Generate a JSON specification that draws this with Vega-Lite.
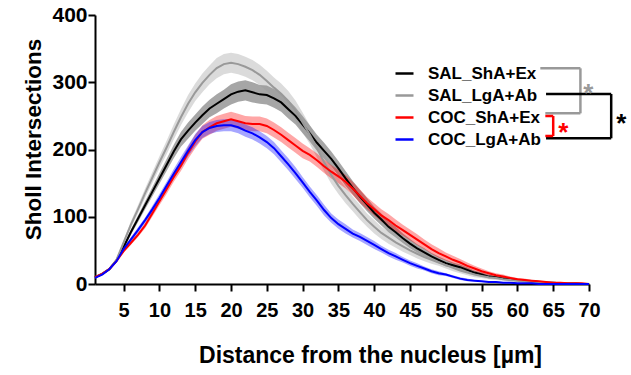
{
  "$schema": "https://vega.github.io/schema/vega-lite/v6.json",
  "width": 494,
  "height": 269,
  "autosize": {"type": "none"},
  "padding": {"left": 95, "top": 15, "right": 42, "bottom": 91},
  "background": "white",
  "config": {
    "view": {"stroke": null},
    "font": "Liberation Sans",
    "axis": {
      "grid": false,
      "domainColor": "#000000",
      "domainWidth": 2,
      "tickColor": "#000000",
      "tickWidth": 2,
      "tickSize": 7,
      "labelFont": "Liberation Sans",
      "labelFontWeight": "bold",
      "labelColor": "#000000",
      "labelFlush": false,
      "labelOverlap": false,
      "titleFont": "Liberation Sans",
      "titleFontWeight": "bold",
      "titleColor": "#000000"
    }
  },
  "datasets": {
    "curves": [
      {"g":"SAL_ShA+Ex","x":1,"y":10,"e":1},{"g":"SAL_ShA+Ex","x":2,"y":15,"e":1},{"g":"SAL_ShA+Ex","x":3,"y":22,"e":1},{"g":"SAL_ShA+Ex","x":4,"y":35,"e":2},{"g":"SAL_ShA+Ex","x":5,"y":55,"e":3},{"g":"SAL_ShA+Ex","x":6,"y":77,"e":4},{"g":"SAL_ShA+Ex","x":7,"y":97,"e":5},{"g":"SAL_ShA+Ex","x":8,"y":117,"e":6},{"g":"SAL_ShA+Ex","x":9,"y":137,"e":7},{"g":"SAL_ShA+Ex","x":10,"y":157,"e":8},
      {"g":"SAL_ShA+Ex","x":11,"y":177,"e":9},{"g":"SAL_ShA+Ex","x":12,"y":197,"e":10},{"g":"SAL_ShA+Ex","x":13,"y":215,"e":11},{"g":"SAL_ShA+Ex","x":14,"y":228,"e":12},{"g":"SAL_ShA+Ex","x":15,"y":240,"e":12},{"g":"SAL_ShA+Ex","x":16,"y":251,"e":13},{"g":"SAL_ShA+Ex","x":17,"y":261,"e":13},{"g":"SAL_ShA+Ex","x":18,"y":268,"e":14},{"g":"SAL_ShA+Ex","x":19,"y":275,"e":14},{"g":"SAL_ShA+Ex","x":20,"y":282,"e":15},
      {"g":"SAL_ShA+Ex","x":21,"y":286,"e":15},{"g":"SAL_ShA+Ex","x":22,"y":288,"e":15},{"g":"SAL_ShA+Ex","x":23,"y":285,"e":15},{"g":"SAL_ShA+Ex","x":24,"y":282,"e":14},{"g":"SAL_ShA+Ex","x":25,"y":281,"e":14},{"g":"SAL_ShA+Ex","x":26,"y":276,"e":14},{"g":"SAL_ShA+Ex","x":27,"y":270,"e":14},{"g":"SAL_ShA+Ex","x":28,"y":260,"e":14},{"g":"SAL_ShA+Ex","x":29,"y":250,"e":13},{"g":"SAL_ShA+Ex","x":30,"y":237,"e":13},
      {"g":"SAL_ShA+Ex","x":31,"y":224,"e":12},{"g":"SAL_ShA+Ex","x":32,"y":210,"e":12},{"g":"SAL_ShA+Ex","x":33,"y":198,"e":12},{"g":"SAL_ShA+Ex","x":34,"y":186,"e":11},{"g":"SAL_ShA+Ex","x":35,"y":172,"e":11},{"g":"SAL_ShA+Ex","x":36,"y":157,"e":11},{"g":"SAL_ShA+Ex","x":37,"y":143,"e":10},{"g":"SAL_ShA+Ex","x":38,"y":130,"e":10},{"g":"SAL_ShA+Ex","x":39,"y":118,"e":10},{"g":"SAL_ShA+Ex","x":40,"y":106,"e":9},
      {"g":"SAL_ShA+Ex","x":41,"y":96,"e":9},{"g":"SAL_ShA+Ex","x":42,"y":85,"e":8},{"g":"SAL_ShA+Ex","x":43,"y":77,"e":8},{"g":"SAL_ShA+Ex","x":44,"y":68,"e":7},{"g":"SAL_ShA+Ex","x":45,"y":60,"e":7},{"g":"SAL_ShA+Ex","x":46,"y":53,"e":6},{"g":"SAL_ShA+Ex","x":47,"y":47,"e":6},{"g":"SAL_ShA+Ex","x":48,"y":41,"e":5},{"g":"SAL_ShA+Ex","x":49,"y":36,"e":5},{"g":"SAL_ShA+Ex","x":50,"y":31,"e":5},
      {"g":"SAL_ShA+Ex","x":51,"y":28,"e":4},{"g":"SAL_ShA+Ex","x":52,"y":25,"e":4},{"g":"SAL_ShA+Ex","x":53,"y":21,"e":4},{"g":"SAL_ShA+Ex","x":54,"y":17,"e":3},{"g":"SAL_ShA+Ex","x":55,"y":14,"e":3},{"g":"SAL_ShA+Ex","x":56,"y":11,"e":3},{"g":"SAL_ShA+Ex","x":57,"y":10,"e":2},{"g":"SAL_ShA+Ex","x":58,"y":8,"e":2},{"g":"SAL_ShA+Ex","x":59,"y":7,"e":2},{"g":"SAL_ShA+Ex","x":60,"y":6,"e":2},
      {"g":"SAL_ShA+Ex","x":61,"y":5,"e":1},{"g":"SAL_ShA+Ex","x":62,"y":4,"e":1},{"g":"SAL_ShA+Ex","x":63,"y":3,"e":1},{"g":"SAL_ShA+Ex","x":64,"y":2,"e":1},{"g":"SAL_ShA+Ex","x":65,"y":2,"e":1},{"g":"SAL_ShA+Ex","x":66,"y":1,"e":1},{"g":"SAL_ShA+Ex","x":67,"y":1,"e":1},{"g":"SAL_ShA+Ex","x":68,"y":1,"e":0.5},{"g":"SAL_ShA+Ex","x":69,"y":0,"e":0.5},{"g":"SAL_ShA+Ex","x":70,"y":0,"e":0.5},

      {"g":"SAL_LgA+Ab","x":1,"y":10,"e":1},{"g":"SAL_LgA+Ab","x":2,"y":15,"e":1},{"g":"SAL_LgA+Ab","x":3,"y":22,"e":1},{"g":"SAL_LgA+Ab","x":4,"y":36,"e":2},{"g":"SAL_LgA+Ab","x":5,"y":62,"e":3},{"g":"SAL_LgA+Ab","x":6,"y":88,"e":5},{"g":"SAL_LgA+Ab","x":7,"y":111,"e":6},{"g":"SAL_LgA+Ab","x":8,"y":135,"e":7},{"g":"SAL_LgA+Ab","x":9,"y":158,"e":8},{"g":"SAL_LgA+Ab","x":10,"y":181,"e":9},
      {"g":"SAL_LgA+Ab","x":11,"y":203,"e":10},{"g":"SAL_LgA+Ab","x":12,"y":226,"e":11},{"g":"SAL_LgA+Ab","x":13,"y":248,"e":12},{"g":"SAL_LgA+Ab","x":14,"y":268,"e":13},{"g":"SAL_LgA+Ab","x":15,"y":285,"e":13},{"g":"SAL_LgA+Ab","x":16,"y":299,"e":14},{"g":"SAL_LgA+Ab","x":17,"y":311,"e":14},{"g":"SAL_LgA+Ab","x":18,"y":321,"e":15},{"g":"SAL_LgA+Ab","x":19,"y":327,"e":15},{"g":"SAL_LgA+Ab","x":20,"y":329,"e":15},
      {"g":"SAL_LgA+Ab","x":21,"y":327,"e":15},{"g":"SAL_LgA+Ab","x":22,"y":323,"e":15},{"g":"SAL_LgA+Ab","x":23,"y":318,"e":15},{"g":"SAL_LgA+Ab","x":24,"y":311,"e":15},{"g":"SAL_LgA+Ab","x":25,"y":302,"e":15},{"g":"SAL_LgA+Ab","x":26,"y":292,"e":15},{"g":"SAL_LgA+Ab","x":27,"y":283,"e":15},{"g":"SAL_LgA+Ab","x":28,"y":272,"e":15},{"g":"SAL_LgA+Ab","x":29,"y":258,"e":15},{"g":"SAL_LgA+Ab","x":30,"y":240,"e":15},
      {"g":"SAL_LgA+Ab","x":31,"y":222,"e":14},{"g":"SAL_LgA+Ab","x":32,"y":202,"e":14},{"g":"SAL_LgA+Ab","x":33,"y":181,"e":13},{"g":"SAL_LgA+Ab","x":34,"y":162,"e":13},{"g":"SAL_LgA+Ab","x":35,"y":146,"e":12},{"g":"SAL_LgA+Ab","x":36,"y":132,"e":12},{"g":"SAL_LgA+Ab","x":37,"y":119,"e":11},{"g":"SAL_LgA+Ab","x":38,"y":107,"e":11},{"g":"SAL_LgA+Ab","x":39,"y":95,"e":10},{"g":"SAL_LgA+Ab","x":40,"y":85,"e":10},
      {"g":"SAL_LgA+Ab","x":41,"y":76,"e":9},{"g":"SAL_LgA+Ab","x":42,"y":69,"e":9},{"g":"SAL_LgA+Ab","x":43,"y":62,"e":8},{"g":"SAL_LgA+Ab","x":44,"y":56,"e":8},{"g":"SAL_LgA+Ab","x":45,"y":50,"e":7},{"g":"SAL_LgA+Ab","x":46,"y":45,"e":7},{"g":"SAL_LgA+Ab","x":47,"y":40,"e":6},{"g":"SAL_LgA+Ab","x":48,"y":36,"e":6},{"g":"SAL_LgA+Ab","x":49,"y":32,"e":5},{"g":"SAL_LgA+Ab","x":50,"y":28,"e":5},
      {"g":"SAL_LgA+Ab","x":51,"y":24,"e":5},{"g":"SAL_LgA+Ab","x":52,"y":20,"e":4},{"g":"SAL_LgA+Ab","x":53,"y":17,"e":4},{"g":"SAL_LgA+Ab","x":54,"y":14,"e":4},{"g":"SAL_LgA+Ab","x":55,"y":12,"e":3},{"g":"SAL_LgA+Ab","x":56,"y":10,"e":3},{"g":"SAL_LgA+Ab","x":57,"y":9,"e":3},{"g":"SAL_LgA+Ab","x":58,"y":7,"e":2},{"g":"SAL_LgA+Ab","x":59,"y":6,"e":2},{"g":"SAL_LgA+Ab","x":60,"y":5,"e":2},
      {"g":"SAL_LgA+Ab","x":61,"y":4,"e":2},{"g":"SAL_LgA+Ab","x":62,"y":3,"e":1},{"g":"SAL_LgA+Ab","x":63,"y":3,"e":1},{"g":"SAL_LgA+Ab","x":64,"y":2,"e":1},{"g":"SAL_LgA+Ab","x":65,"y":2,"e":1},{"g":"SAL_LgA+Ab","x":66,"y":1,"e":1},{"g":"SAL_LgA+Ab","x":67,"y":1,"e":1},{"g":"SAL_LgA+Ab","x":68,"y":1,"e":1},{"g":"SAL_LgA+Ab","x":69,"y":0,"e":0.5},{"g":"SAL_LgA+Ab","x":70,"y":0,"e":0.5},

      {"g":"COC_ShA+Ex","x":1,"y":10,"e":1},{"g":"COC_ShA+Ex","x":2,"y":15,"e":1},{"g":"COC_ShA+Ex","x":3,"y":22,"e":1},{"g":"COC_ShA+Ex","x":4,"y":34,"e":2},{"g":"COC_ShA+Ex","x":5,"y":49,"e":2},{"g":"COC_ShA+Ex","x":6,"y":61,"e":3},{"g":"COC_ShA+Ex","x":7,"y":73,"e":3},{"g":"COC_ShA+Ex","x":8,"y":87,"e":4},{"g":"COC_ShA+Ex","x":9,"y":105,"e":5},{"g":"COC_ShA+Ex","x":10,"y":123,"e":6},
      {"g":"COC_ShA+Ex","x":11,"y":141,"e":7},{"g":"COC_ShA+Ex","x":12,"y":159,"e":7},{"g":"COC_ShA+Ex","x":13,"y":176,"e":8},{"g":"COC_ShA+Ex","x":14,"y":195,"e":9},{"g":"COC_ShA+Ex","x":15,"y":212,"e":10},{"g":"COC_ShA+Ex","x":16,"y":226,"e":10},{"g":"COC_ShA+Ex","x":17,"y":233,"e":11},{"g":"COC_ShA+Ex","x":18,"y":239,"e":11},{"g":"COC_ShA+Ex","x":19,"y":242,"e":11},{"g":"COC_ShA+Ex","x":20,"y":245,"e":11},
      {"g":"COC_ShA+Ex","x":21,"y":242,"e":11},{"g":"COC_ShA+Ex","x":22,"y":239,"e":11},{"g":"COC_ShA+Ex","x":23,"y":238,"e":11},{"g":"COC_ShA+Ex","x":24,"y":238,"e":11},{"g":"COC_ShA+Ex","x":25,"y":235,"e":11},{"g":"COC_ShA+Ex","x":26,"y":229,"e":11},{"g":"COC_ShA+Ex","x":27,"y":222,"e":11},{"g":"COC_ShA+Ex","x":28,"y":214,"e":11},{"g":"COC_ShA+Ex","x":29,"y":206,"e":11},{"g":"COC_ShA+Ex","x":30,"y":198,"e":11},
      {"g":"COC_ShA+Ex","x":31,"y":192,"e":10},{"g":"COC_ShA+Ex","x":32,"y":184,"e":10},{"g":"COC_ShA+Ex","x":33,"y":175,"e":10},{"g":"COC_ShA+Ex","x":34,"y":167,"e":10},{"g":"COC_ShA+Ex","x":35,"y":160,"e":10},{"g":"COC_ShA+Ex","x":36,"y":152,"e":10},{"g":"COC_ShA+Ex","x":37,"y":142,"e":10},{"g":"COC_ShA+Ex","x":38,"y":131,"e":10},{"g":"COC_ShA+Ex","x":39,"y":120,"e":9},{"g":"COC_ShA+Ex","x":40,"y":111,"e":9},
      {"g":"COC_ShA+Ex","x":41,"y":102,"e":9},{"g":"COC_ShA+Ex","x":42,"y":95,"e":9},{"g":"COC_ShA+Ex","x":43,"y":87,"e":9},{"g":"COC_ShA+Ex","x":44,"y":80,"e":8},{"g":"COC_ShA+Ex","x":45,"y":73,"e":8},{"g":"COC_ShA+Ex","x":46,"y":66,"e":8},{"g":"COC_ShA+Ex","x":47,"y":59,"e":7},{"g":"COC_ShA+Ex","x":48,"y":52,"e":7},{"g":"COC_ShA+Ex","x":49,"y":46,"e":7},{"g":"COC_ShA+Ex","x":50,"y":41,"e":6},
      {"g":"COC_ShA+Ex","x":51,"y":36,"e":6},{"g":"COC_ShA+Ex","x":52,"y":32,"e":5},{"g":"COC_ShA+Ex","x":53,"y":27,"e":5},{"g":"COC_ShA+Ex","x":54,"y":23,"e":4},{"g":"COC_ShA+Ex","x":55,"y":19,"e":4},{"g":"COC_ShA+Ex","x":56,"y":16,"e":3},{"g":"COC_ShA+Ex","x":57,"y":13,"e":3},{"g":"COC_ShA+Ex","x":58,"y":11,"e":3},{"g":"COC_ShA+Ex","x":59,"y":9,"e":2},{"g":"COC_ShA+Ex","x":60,"y":7,"e":2},
      {"g":"COC_ShA+Ex","x":61,"y":6,"e":2},{"g":"COC_ShA+Ex","x":62,"y":5,"e":1},{"g":"COC_ShA+Ex","x":63,"y":4,"e":1},{"g":"COC_ShA+Ex","x":64,"y":3,"e":1},{"g":"COC_ShA+Ex","x":65,"y":2,"e":1},{"g":"COC_ShA+Ex","x":66,"y":2,"e":1},{"g":"COC_ShA+Ex","x":67,"y":1,"e":1},{"g":"COC_ShA+Ex","x":68,"y":1,"e":0.5},{"g":"COC_ShA+Ex","x":69,"y":1,"e":0.5},{"g":"COC_ShA+Ex","x":70,"y":0,"e":0.5},

      {"g":"COC_LgA+Ab","x":1,"y":9,"e":1},{"g":"COC_LgA+Ab","x":2,"y":14,"e":1},{"g":"COC_LgA+Ab","x":3,"y":22,"e":1},{"g":"COC_LgA+Ab","x":4,"y":34,"e":2},{"g":"COC_LgA+Ab","x":5,"y":52,"e":2},{"g":"COC_LgA+Ab","x":6,"y":66,"e":3},{"g":"COC_LgA+Ab","x":7,"y":80,"e":4},{"g":"COC_LgA+Ab","x":8,"y":95,"e":4},{"g":"COC_LgA+Ab","x":9,"y":111,"e":5},{"g":"COC_LgA+Ab","x":10,"y":128,"e":6},
      {"g":"COC_LgA+Ab","x":11,"y":146,"e":6},{"g":"COC_LgA+Ab","x":12,"y":164,"e":7},{"g":"COC_LgA+Ab","x":13,"y":181,"e":8},{"g":"COC_LgA+Ab","x":14,"y":198,"e":8},{"g":"COC_LgA+Ab","x":15,"y":214,"e":9},{"g":"COC_LgA+Ab","x":16,"y":226,"e":9},{"g":"COC_LgA+Ab","x":17,"y":232,"e":9},{"g":"COC_LgA+Ab","x":18,"y":235,"e":9},{"g":"COC_LgA+Ab","x":19,"y":236,"e":9},{"g":"COC_LgA+Ab","x":20,"y":236,"e":9},
      {"g":"COC_LgA+Ab","x":21,"y":233,"e":9},{"g":"COC_LgA+Ab","x":22,"y":228,"e":9},{"g":"COC_LgA+Ab","x":23,"y":224,"e":9},{"g":"COC_LgA+Ab","x":24,"y":218,"e":9},{"g":"COC_LgA+Ab","x":25,"y":211,"e":9},{"g":"COC_LgA+Ab","x":26,"y":202,"e":9},{"g":"COC_LgA+Ab","x":27,"y":190,"e":9},{"g":"COC_LgA+Ab","x":28,"y":178,"e":9},{"g":"COC_LgA+Ab","x":29,"y":165,"e":9},{"g":"COC_LgA+Ab","x":30,"y":151,"e":8},
      {"g":"COC_LgA+Ab","x":31,"y":137,"e":8},{"g":"COC_LgA+Ab","x":32,"y":124,"e":8},{"g":"COC_LgA+Ab","x":33,"y":110,"e":8},{"g":"COC_LgA+Ab","x":34,"y":98,"e":7},{"g":"COC_LgA+Ab","x":35,"y":89,"e":7},{"g":"COC_LgA+Ab","x":36,"y":82,"e":7},{"g":"COC_LgA+Ab","x":37,"y":75,"e":6},{"g":"COC_LgA+Ab","x":38,"y":70,"e":6},{"g":"COC_LgA+Ab","x":39,"y":64,"e":6},{"g":"COC_LgA+Ab","x":40,"y":58,"e":6},
      {"g":"COC_LgA+Ab","x":41,"y":52,"e":5},{"g":"COC_LgA+Ab","x":42,"y":46,"e":5},{"g":"COC_LgA+Ab","x":43,"y":41,"e":5},{"g":"COC_LgA+Ab","x":44,"y":36,"e":4},{"g":"COC_LgA+Ab","x":45,"y":31,"e":4},{"g":"COC_LgA+Ab","x":46,"y":27,"e":4},{"g":"COC_LgA+Ab","x":47,"y":23,"e":3},{"g":"COC_LgA+Ab","x":48,"y":19,"e":3},{"g":"COC_LgA+Ab","x":49,"y":16,"e":3},{"g":"COC_LgA+Ab","x":50,"y":14,"e":2},
      {"g":"COC_LgA+Ab","x":51,"y":11,"e":2},{"g":"COC_LgA+Ab","x":52,"y":8,"e":2},{"g":"COC_LgA+Ab","x":53,"y":6,"e":2},{"g":"COC_LgA+Ab","x":54,"y":5,"e":1},{"g":"COC_LgA+Ab","x":55,"y":4,"e":1},{"g":"COC_LgA+Ab","x":56,"y":3,"e":1},{"g":"COC_LgA+Ab","x":57,"y":3,"e":1},{"g":"COC_LgA+Ab","x":58,"y":2,"e":1},{"g":"COC_LgA+Ab","x":59,"y":2,"e":1},{"g":"COC_LgA+Ab","x":60,"y":1,"e":0.5},
      {"g":"COC_LgA+Ab","x":61,"y":1,"e":0.5},{"g":"COC_LgA+Ab","x":62,"y":1,"e":0.5},{"g":"COC_LgA+Ab","x":63,"y":0,"e":0.5},{"g":"COC_LgA+Ab","x":64,"y":0,"e":0.5},{"g":"COC_LgA+Ab","x":65,"y":0,"e":0.5},{"g":"COC_LgA+Ab","x":66,"y":0,"e":0.5},{"g":"COC_LgA+Ab","x":67,"y":0,"e":0.5},{"g":"COC_LgA+Ab","x":68,"y":0,"e":0.5},{"g":"COC_LgA+Ab","x":69,"y":0,"e":0.5},{"g":"COC_LgA+Ab","x":70,"y":0,"e":0.5}
    ],
    "brackets": [
      {"x":63.2,"x2":68.8,"y":320.7,"y2":320.7,"c":"#999999"},
      {"x":68.8,"x2":68.8,"y":320.7,"y2":253.8,"c":"#999999"},
      {"x":63.9,"x2":68.8,"y":253.8,"y2":253.8,"c":"#999999"},
      {"x":64.0,"x2":73.1,"y":282.5,"y2":282.5,"c":"#000000"},
      {"x":73.1,"x2":73.1,"y":282.5,"y2":216.7,"c":"#000000"},
      {"x":64.0,"x2":73.1,"y":216.7,"y2":216.7,"c":"#000000"},
      {"x":63.9,"x2":65.0,"y":249.8,"y2":249.8,"c":"#ff0000"},
      {"x":65.0,"x2":65.0,"y":249.8,"y2":220.1,"c":"#ff0000"},
      {"x":63.9,"x2":65.0,"y":220.1,"y2":220.1,"c":"#ff0000"}
    ],
    "stars": [
      {"x":69.9,"y":292.9,"t":"*","c":"#999999"},
      {"x":74.5,"y":248.3,"t":"*","c":"#000000"},
      {"x":66.4,"y":235.4,"t":"*","c":"#ff0000"}
    ]
  },
  "encoding": {
    "x": {"field": "x", "type": "quantitative", "scale": {"domain": [1, 70], "nice": false, "zero": false},
          "axis": {"values": [5,10,15,20,25,30,35,40,45,50,55,60,65,70], "labelFontSize": 20, "labelPadding": 9,
                   "title": "Distance from the nucleus [µm]", "titleFontSize": 23, "titleX": 275, "titleY": 78,
                   "titleAlign": "center", "titleBaseline": "alphabetic"}},
    "y": {"field": "y", "type": "quantitative", "scale": {"domain": [0, 400], "nice": false},
          "axis": {"values": [0,100,200,300,400], "labelFontSize": 21, "labelPadding": 1,
                   "title": "Sholl Intersections", "titleFontSize": 22.5, "titleX": -55, "titleY": 124,
                   "titleAngle": -90, "titleAlign": "center", "titleBaseline": "alphabetic"}}
  },
  "layer": [
    {
      "data": {"name": "curves"},
      "mark": {"type": "errorband", "band": {"opacity": 0.35}},
      "encoding": {
        "yError": {"field": "e"},
        "color": {"field": "g", "type": "nominal",
                  "scale": {"domain": ["SAL_ShA+Ex","SAL_LgA+Ab","COC_ShA+Ex","COC_LgA+Ab"], "range": ["#000000","#999999","#ff0000","#0000ff"]},
                  "legend": null}
      }
    },
    {
      "data": {"name": "curves"},
      "mark": {"type": "line", "strokeWidth": 2},
      "encoding": {
        "color": {"field": "g", "type": "nominal",
                  "scale": {"domain": ["SAL_ShA+Ex","SAL_LgA+Ab","COC_ShA+Ex","COC_LgA+Ab"], "range": ["#000000","#999999","#ff0000","#0000ff"]},
                  "legend": {"title": null, "orient": "none", "legendX": 299, "legendY": 48, "padding": 0,
                             "symbolType": "stroke", "symbolSize": 324, "symbolStrokeWidth": 2.5,
                             "labelFont": "Liberation Sans", "labelFontWeight": "bold", "labelFontSize": 17, "labelColor": "#000000",
                             "labelOffset": 13, "rowPadding": 3}}
      }
    },
    {
      "data": {"name": "brackets"},
      "mark": {"type": "rule", "strokeWidth": 2.5},
      "encoding": {
        "x2": {"field": "x2"},
        "y2": {"field": "y2"},
        "stroke": {"field": "c", "type": "nominal", "scale": null}
      }
    },
    {
      "data": {"name": "stars"},
      "mark": {"type": "text", "fontSize": 26, "fontWeight": "bold", "font": "Liberation Sans", "baseline": "alphabetic", "align": "center", "dy": 15},
      "encoding": {
        "text": {"field": "t"},
        "fill": {"field": "c", "type": "nominal", "scale": null}
      }
    }
  ],
  "resolve": {"legend": {"color": "independent"}}
}
